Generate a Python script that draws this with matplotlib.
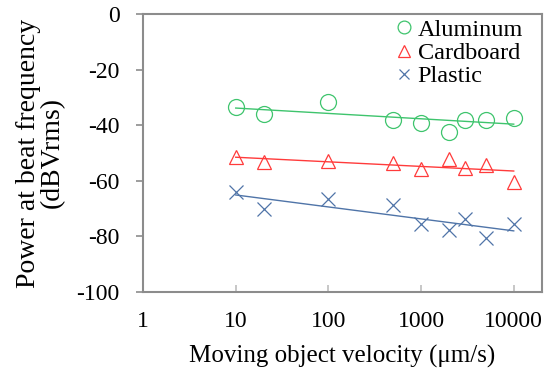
import numpy as np
import matplotlib
matplotlib.use("Agg")
import matplotlib.pyplot as plt
from matplotlib.ticker import FixedLocator, NullLocator

plt.rcParams['font.family'] = ['Liberation Serif', 'DejaVu Serif']

velocity = [10, 20, 100, 500, 1000, 2000, 3000, 5000, 10000]
aluminum = [-33.6, -36.0, -31.5, -38.0, -39.2, -42.4, -38.0, -38.2, -37.5]
cardboard = [-51.6, -53.1, -53.0, -53.5, -55.9, -52.2, -55.5, -54.2, -60.3]
plastic = [-63.9, -70.1, -66.7, -68.7, -75.4, -77.8, -73.9, -80.5, -75.5]

series = [
    ("Aluminum", aluminum, "#3ec46d", "o", 11.5),
    ("Cardboard", cardboard, "#ff3b3b", "^", 10),
    ("Plastic", plastic, "#4f74a8", "x", 9.5),
]

xticks = [1, 10, 100, 1000, 10000]
xticklabels = ["1", "10", "100", "1000", "10000"]
yticks = [0, -20, -40, -60, -80, -100]

fig = plt.figure(figsize=(5.46, 3.68), dpi=100)
ax = fig.add_axes([0.262, 0.2065, 0.730, 0.7555])

x = np.array(velocity, dtype=float)
lx = np.log10(x)
for name, vals, col, mk, ms in series:
    if mk == "x":
        ax.plot(x, vals, linestyle="none", marker=mk, ms=ms, mec=col, mew=0.9, label=name)
    else:
        ax.plot(x, vals, linestyle="none", marker=mk, ms=ms, mfc="none", mec=col, mew=0.9, label=name)
    slope, icpt = np.polyfit(lx, vals, 1)
    ax.plot(x[[0, -1]], icpt + slope * lx[[0, -1]], color=col, lw=1.0)

ax.set_xscale("log")
ax.set_xlim(1, 20000)
ax.set_ylim(-100, 0)
ax.xaxis.set_major_locator(FixedLocator(xticks))
ax.xaxis.set_minor_locator(NullLocator())
ax.set_xticklabels(xticklabels, fontsize=17)
ax.set_yticks(yticks)
ax.set_yticklabels([str(v) for v in yticks], fontsize=17)

for s in ax.spines.values():
    s.set_color("#8c8c8c")
    s.set_linewidth(1.5)
ax.tick_params(axis="x", direction="in", length=5, width=1.2, color="#bdbdbd", pad=14)
ax.tick_params(axis="y", direction="out", length=5, width=1.2, color="#8c8c8c", pad=12)

ax.set_xlabel("Moving object velocity (\u03bcm/s)", fontsize=18, labelpad=9)
ax.set_ylabel("Power at beat frequency\n(dBVrms)", fontsize=20, labelpad=8, linespacing=0.95)

leg = ax.legend(loc="upper right", bbox_to_anchor=(0.99, 1.035), frameon=False, fontsize=17.5,
                handlelength=0.7, handletextpad=0.2, labelspacing=0.05, markerscale=0.8,
                borderaxespad=0.2)

fig.savefig("out.png", dpi=100)
